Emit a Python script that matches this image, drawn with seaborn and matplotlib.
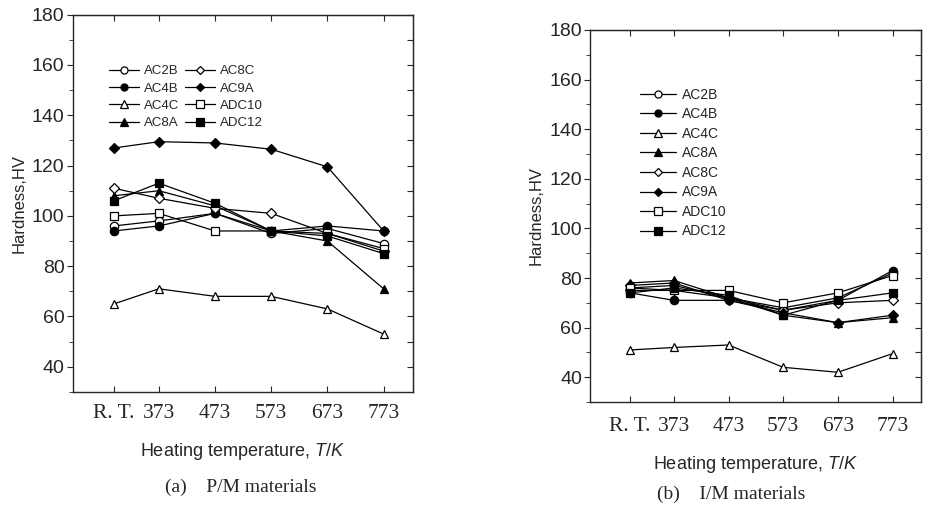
import numpy as np
import pandas as pd
import seaborn as sns
import matplotlib.pyplot as plt
from matplotlib.ticker import MultipleLocator

sns.set_style("ticks")
plt.rcParams["font.family"] = ["Liberation Sans", "DejaVu Sans"]
plt.rcParams["mathtext.fontset"] = "custom"
plt.rcParams["mathtext.it"] = "Liberation Sans:italic"
plt.rcParams["mathtext.rm"] = "Liberation Sans"

# Heating temperature (R.T. taken as 293 K)
temps = [293, 373, 473, 573, 673, 773]
tick_labels = ["R. T.", "373", "473", "573", "673", "773"]
alloys = ["AC2B", "AC4B", "AC4C", "AC8A", "AC8C", "AC9A", "ADC10", "ADC12"]

# (a) P/M materials
pm_ac2b = [96, 98, 101, 93, 95, 89]
pm_ac4b = [94, 96, 101, 94, 96, 94]
pm_ac4c = [65, 71, 68, 68, 63, 53]
pm_ac8a = [108, 110, 104, 94, 90, 71]
pm_ac8c = [111, 107, 103, 101, 93, 86]
pm_ac9a = [127, 129.5, 129, 126.5, 119.5, 94]
pm_adc10 = [100, 101, 94, 94, 93, 87]
pm_adc12 = [106, 113, 105, 94, 92, 85]

# (b) I/M materials
im_ac2b = [76, 77, 72, 68, 72, 82]
im_ac4b = [74, 71, 71, 67, 71, 83]
im_ac4c = [51, 52, 53, 44, 42, 49.5]
im_ac8a = [78, 79, 72, 65, 62, 64]
im_ac8c = [75, 75, 72, 67, 70, 71]
im_ac9a = [77, 78, 71, 66, 62, 65]
im_adc10 = [76, 75, 75, 70, 74, 81]
im_adc12 = [74, 76, 73, 65, 71, 74]

pm = [pm_ac2b, pm_ac4b, pm_ac4c, pm_ac8a, pm_ac8c, pm_ac9a, pm_adc10, pm_adc12]
im = [im_ac2b, im_ac4b, im_ac4c, im_ac8a, im_ac8c, im_ac9a, im_adc10, im_adc12]

# marker shape and fill for each alloy
styles = {
    "AC2B": ("o", "white"), "AC4B": ("o", "black"),
    "AC4C": ("^", "white"), "AC8A": ("^", "black"),
    "AC8C": ("D", "white"), "AC9A": ("D", "black"),
    "ADC10": ("s", "white"), "ADC12": ("s", "black"),
}

fig = plt.figure(figsize=(9.34, 5.07), dpi=100)
ax1 = fig.add_axes([0.078, 0.227, 0.364, 0.744])
ax2 = fig.add_axes([0.632, 0.207, 0.354, 0.734])


def draw(ax, data, xpad):
    for name, vals in zip(alloys, data):
        mk, fc = styles[name]
        ms = 5.2 if mk == "D" else 6.0
        sns.lineplot(x=temps, y=vals, ax=ax, color="black", lw=0.9,
                     marker=mk, mfc=fc, mec="black", mew=0.9, ms=ms, label=name)
    ax.set_xlim(220, 825)
    ax.set_ylim(30, 180)
    ax.set_xticks(temps)
    ax.set_xticklabels(tick_labels, fontfamily="Liberation Serif", fontsize=15.5)
    ax.yaxis.set_minor_locator(MultipleLocator(10))
    ax.set_yticks([40, 60, 80, 100, 120, 140, 160, 180])
    ax.tick_params(axis="y", labelsize=14, direction="out", length=4, pad=2)
    ax.tick_params(axis="y", which="minor", direction="out", length=3)
    ax.tick_params(axis="x", direction="in", length=4, pad=xpad)
    sec = ax.secondary_yaxis("right")
    sec.set_yticks(np.arange(40, 181, 10))
    sec.tick_params(direction="in", length=4, labelright=False)
    top = ax.secondary_xaxis("top")
    top.set_xticks(temps)
    top.tick_params(direction="in", length=4, labeltop=False)
    for s in ax.spines.values():
        s.set_linewidth(1.0)
    ax.set_ylabel("Hardness,HV", fontsize=12, labelpad=4)
    ax.set_xlabel(r"Heating temperature, $\mathit{T/K}$", fontsize=13, labelpad=13)


draw(ax1, pm, 9)
draw(ax2, im, 11)

ax1.legend(ncol=2, loc="upper left", bbox_to_anchor=(0.105, 0.866), frameon=False,
           fontsize=9.5, handlelength=2.3, handletextpad=0.4, labelspacing=0.38,
           columnspacing=0.4, borderaxespad=0, borderpad=0, markerscale=0.85)
ax2.legend(loc="upper left", bbox_to_anchor=(0.15, 0.845), frameon=False,
           fontsize=10, handlelength=2.6, handletextpad=0.4, labelspacing=0.4,
           borderaxespad=0, borderpad=0, markerscale=0.85)

fig.text(0.258, 0.039, "(a)    P/M materials", ha="center", va="center",
         fontfamily="Liberation Serif", fontsize=14)
fig.text(0.783, 0.024, "(b)    I/M materials", ha="center", va="center",
         fontfamily="Liberation Serif", fontsize=14)

fig.savefig("out.png", dpi=100)
